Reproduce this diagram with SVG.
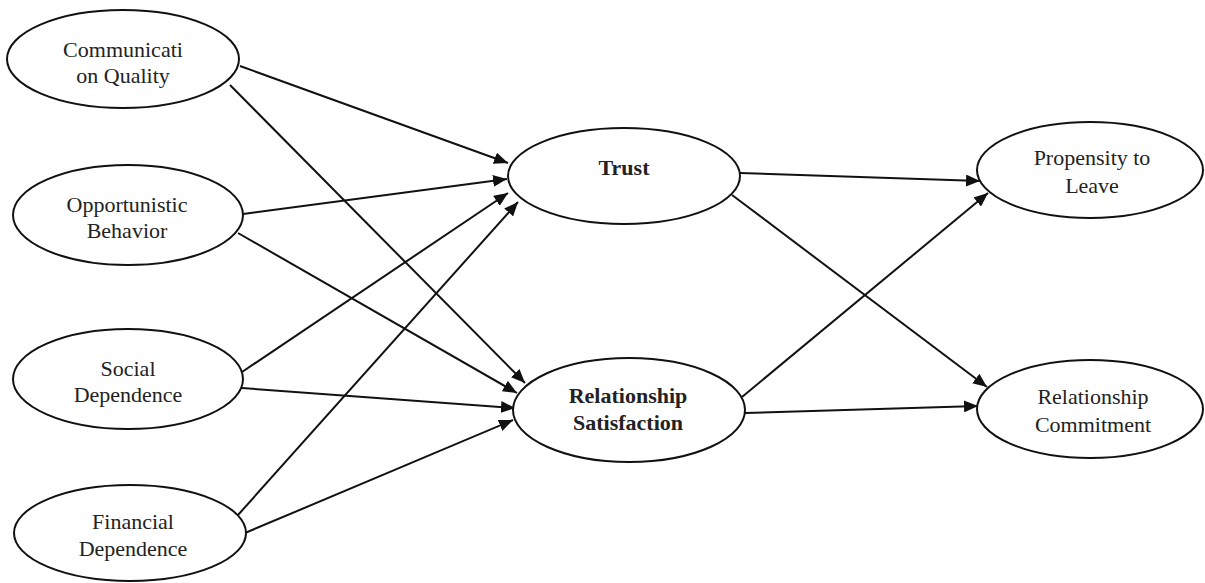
<svg xmlns="http://www.w3.org/2000/svg" width="1205" height="583" viewBox="0 0 1205 583">
<style>
.node ellipse{fill:#fff;stroke:#111;stroke-width:2}
.node text{font-family:"Liberation Serif","Times New Roman",serif;font-size:22px;fill:#222;text-anchor:middle}
.node text.b{font-weight:bold}
#connectors line{stroke:#111;stroke-width:2;fill:none}
</style>
<defs>
<marker id="arr" markerUnits="userSpaceOnUse" markerWidth="16" markerHeight="12" refX="14" refY="6" orient="auto">
<path d="M0,0 L14,6 L0,12 z" fill="#111"/>
</marker>
</defs>
<rect width="1205" height="583" fill="#fff"/>
<g id="connectors">
<line x1="240" y1="66" x2="508" y2="163" marker-end="url(#arr)"/>
<line x1="243" y1="214" x2="507" y2="179" marker-end="url(#arr)"/>
<line x1="242" y1="372" x2="508" y2="193" marker-end="url(#arr)"/>
<line x1="238" y1="515" x2="518" y2="202" marker-end="url(#arr)"/>
<line x1="230" y1="85" x2="525" y2="383" marker-end="url(#arr)"/>
<line x1="238" y1="233" x2="517" y2="393" marker-end="url(#arr)"/>
<line x1="242" y1="388" x2="515" y2="408" marker-end="url(#arr)"/>
<line x1="245" y1="533" x2="513" y2="420" marker-end="url(#arr)"/>
<line x1="740" y1="173" x2="980" y2="181" marker-end="url(#arr)"/>
<line x1="732" y1="195" x2="987" y2="387" marker-end="url(#arr)"/>
<line x1="742" y1="397" x2="988" y2="193" marker-end="url(#arr)"/>
<line x1="745" y1="413" x2="978" y2="406" marker-end="url(#arr)"/>
</g>
<g id="communication-quality" class="node">
<ellipse cx="123" cy="59" rx="116" ry="49"/>
<text x="123" y="57">Communicati</text>
<text x="123" y="83">on Quality</text>
</g>
<g id="opportunistic-behavior" class="node">
<ellipse cx="128" cy="215" rx="115" ry="50"/>
<text x="127" y="212">Opportunistic</text>
<text x="127" y="238">Behavior</text>
</g>
<g id="social-dependence" class="node">
<ellipse cx="128" cy="379" rx="115" ry="50"/>
<text x="128" y="376">Social</text>
<text x="128" y="402">Dependence</text>
</g>
<g id="financial-dependence" class="node">
<ellipse cx="130" cy="533" rx="116" ry="48"/>
<text x="133" y="529">Financial</text>
<text x="133" y="556">Dependence</text>
</g>
<g id="trust" class="node">
<ellipse cx="624" cy="176" rx="116" ry="48"/>
<text class="b" x="624" y="175">Trust</text>
</g>
<g id="relationship-satisfaction" class="node">
<ellipse cx="629" cy="410" rx="116" ry="52"/>
<text class="b" x="628" y="403">Relationship</text>
<text class="b" x="628" y="430">Satisfaction</text>
</g>
<g id="propensity-to-leave" class="node">
<ellipse cx="1090" cy="170" rx="113" ry="48"/>
<text x="1092" y="165">Propensity to</text>
<text x="1092" y="193">Leave</text>
</g>
<g id="relationship-commitment" class="node">
<ellipse cx="1090" cy="409" rx="113" ry="49"/>
<text x="1093" y="404">Relationship</text>
<text x="1093" y="432">Commitment</text>
</g>
</svg>
